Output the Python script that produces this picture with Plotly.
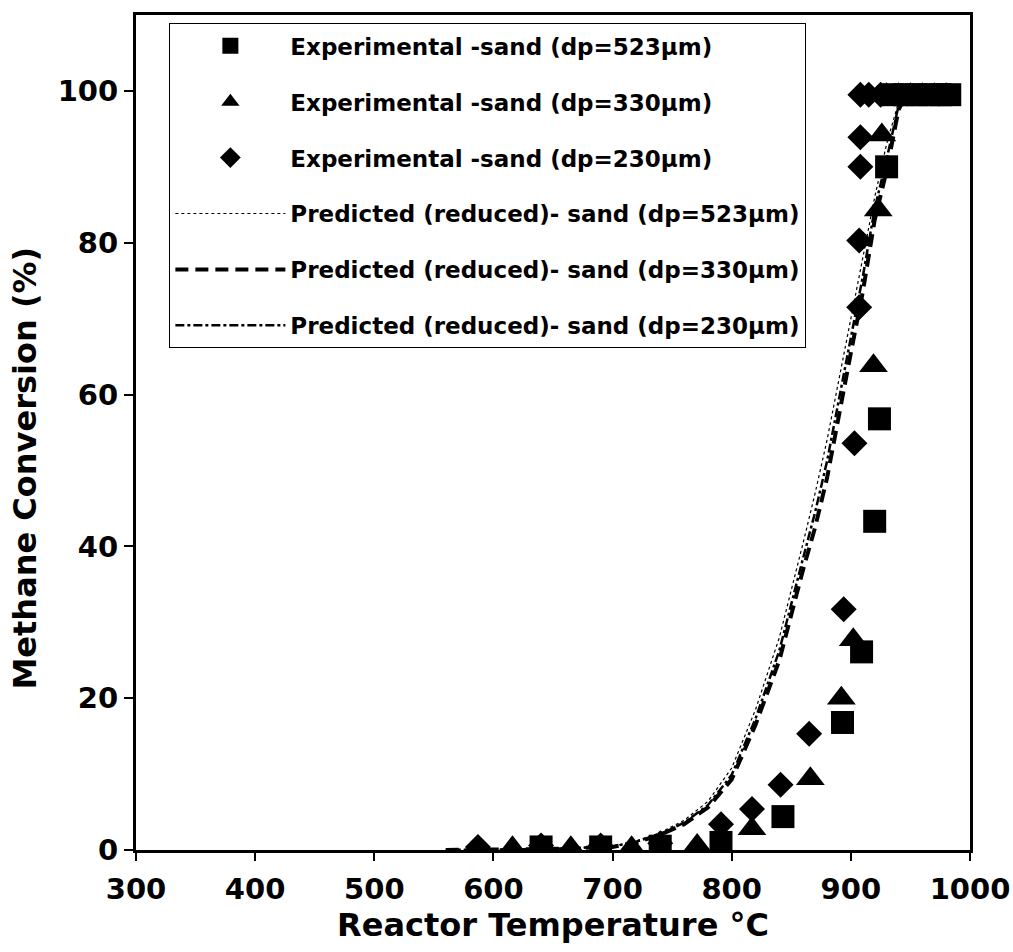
import plotly.graph_objects as go

# ---------------- data ----------------
# Experimental - sand dp=523 um (squares)
t_523 = [640, 690, 740, 791, 843, 893, 909, 920, 924, 930, 935, 945, 955, 965, 975, 983]
c_523 = [0.4, 0.4, 0.5, 1.0, 4.4, 16.8, 26.1, 43.3, 56.8, 90.0, 99.5, 99.5, 99.5, 99.5, 99.5, 99.5]

# Experimental - sand dp=330 um (triangles)
t_330 = [616, 665, 716, 771, 817, 866, 892, 902, 919, 923, 926, 930, 940, 950, 960, 970, 980]
c_330 = [0.3, 0.3, 0.3, 0.6, 2.8, 9.4, 20.0, 27.7, 63.8, 84.3, 94.2, 99.5, 99.5, 99.5, 99.5, 99.5, 99.5]

# Experimental - sand dp=230 um (diamonds)
t_230 = [587, 640, 690, 740, 791, 817, 841, 865, 894, 903, 907, 907, 908, 908, 908, 915, 925]
c_230 = [0.4, 0.6, 0.6, 0.9, 3.4, 5.4, 8.6, 15.3, 31.7, 53.6, 71.5, 80.3, 90.0, 93.9, 99.5, 99.5, 99.5]

# Predicted (reduced) curves
t_pred = [560, 600, 650, 700, 720, 740, 760, 780, 800, 820, 840, 860, 870, 880, 890, 900, 910, 920, 930, 940, 948]
p_523 = [0, 0.05, 0.2, 0.5, 1.2, 2.3, 3.9, 6.4, 10.8, 18.5, 28.0, 40.5, 47.0, 54.0, 62.0, 70.0, 78.0, 86.0, 93.0, 98.5, 100]
p_330 = [0, 0.05, 0.15, 0.4, 1.0, 2.0, 3.4, 5.6, 9.3, 16.5, 25.0, 37.0, 42.5, 49.0, 57.5, 65.5, 73.5, 83.0, 89.5, 97.5, 100]
p_230 = [0, 0.05, 0.15, 0.45, 1.1, 2.1, 3.6, 5.9, 9.9, 17.3, 26.3, 38.5, 44.5, 51.2, 59.5, 67.5, 75.5, 84.5, 91.0, 98.0, 100]

x_ticks = [300, 400, 500, 600, 700, 800, 900, 1000]
y_ticks = [0, 20, 40, 60, 80, 100]

names = [
    "Experimental -sand (dp=523μm)",
    "Experimental -sand (dp=330μm)",
    "Experimental -sand (dp=230μm)",
    "Predicted (reduced)- sand (dp=523μm)",
    "Predicted (reduced)- sand (dp=330μm)",
    "Predicted (reduced)- sand (dp=230μm)",
]
y_title = "Methane Conversion (%)"
x_title = "Reactor Temperature °C"

FONT = "DejaVu Sans"

fig = go.Figure()

# predicted lines first (drawn under markers)
fig.add_trace(go.Scatter(x=t_pred, y=p_523, mode="lines", name=names[3], legendgroup="g4",
                         legendrank=4, line=dict(color="black", width=1.2, dash="dot")))
fig.add_trace(go.Scatter(x=t_pred, y=p_330, mode="lines", name=names[4], legendgroup="g5",
                         legendrank=5, line=dict(color="black", width=4, dash="13px,7px")))
fig.add_trace(go.Scatter(x=t_pred, y=p_230, mode="lines", name=names[5], legendgroup="g6",
                         legendrank=6, line=dict(color="black", width=2.5, dash="dashdot")))

fig.add_trace(go.Scatter(x=t_523, y=c_523, mode="markers", name=names[0], legendgroup="g1",
                         legendrank=1, marker=dict(symbol="square", size=23, color="black")))
fig.add_trace(go.Scatter(x=t_330, y=c_330, mode="markers", name=names[1], legendgroup="g2",
                         legendrank=2, marker=dict(symbol="triangle-up", size=25, color="black")))
fig.add_trace(go.Scatter(x=t_230, y=c_230, mode="markers", name=names[2], legendgroup="g3",
                         legendrank=3, marker=dict(symbol="diamond", size=20, color="black")))

fig.update_layout(
    width=1013, height=952,
    margin=dict(l=136, r=43, t=15, b=102),
    paper_bgcolor="white", plot_bgcolor="white",
    font=dict(family=FONT, color="black"),
    showlegend=True,
    legend=dict(
        x=0.04, y=0.99, xanchor="left", yanchor="top",
        bgcolor="white", bordercolor="black", borderwidth=1,
        font=dict(family=FONT, size=23, color="black", weight="bold"),
        tracegroupgap=23, traceorder="grouped", itemwidth=110,
    ),
    annotations=[dict(
        text=y_title, textangle=-90, xref="paper", yref="paper",
        x=-0.133, y=0.457, xanchor="center", yanchor="middle", showarrow=False,
        font=dict(family=FONT, size=32, color="black", weight="bold"),
    )],
)

fig.update_xaxes(
    range=[300, 1000], tickmode="array", tickvals=x_ticks,
    ticktext=[str(v) for v in x_ticks], automargin=False,
    showgrid=False, zeroline=False,
    showline=True, linecolor="black", linewidth=3, mirror=True,
    ticks="outside", ticklen=8, tickwidth=1.5, tickcolor="black",
    ticklabelstandoff=3,
    tickfont=dict(family=FONT, size=29, color="black", weight="bold"),
    title=dict(text=x_title, standoff=0,
               font=dict(family=FONT, size=32, color="black", weight="bold")),
)
fig.update_yaxes(
    range=[0, 110], tickmode="array", tickvals=y_ticks,
    ticktext=[str(v) for v in y_ticks], automargin=False,
    showgrid=False, zeroline=False,
    showline=True, linecolor="black", linewidth=3, mirror=True,
    ticks="outside", ticklen=9, tickwidth=1.5, tickcolor="black",
    tickfont=dict(family=FONT, size=29, color="black", weight="bold"),
)

fig.write_html("out.html")
